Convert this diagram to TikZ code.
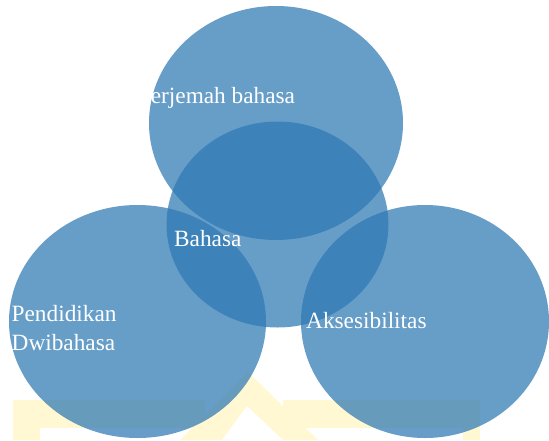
\documentclass[tikz,border=0pt]{standalone}
\usepackage{fontspec}
\setmainfont{Liberation Serif}
\begin{document}
\begin{tikzpicture}[x=1pt,y=-1pt,
  bubble/.style={fill=bubbleblue,fill opacity=0.72,draw=none},
  wmark/.style={fill=wmyellow,draw=none},
  hole/.style={fill=white,draw=none},
  lbl/.style={text=white,inner sep=0pt,anchor=base west,font=\fontsize{23.3}{28}\selectfont}]
\definecolor{bubbleblue}{RGB}{45,120,179}
\definecolor{wmyellow}{RGB}{255,248,210}
\useasboundingbox (0,0) rectangle (549,440);
% faint watermark
\path[wmark] (13,400) rectangle (205,440);
\path[hole] (40,428) rectangle (205,440);
\path[wmark] (283,400) rectangle (480,440);
\path[hole] (300,428) rectangle (463,440);
\path[wmark] (180,440) -- (248,372) -- (318,440) -- cycle;
\path[hole] (222,440) -- (247,406) -- (283,440) -- cycle;
% ellipses
\path[bubble] (276,123) ellipse [x radius=127,y radius=117];
\path[bubble] (277.5,224.5) ellipse [x radius=111,y radius=103];
\path[bubble] (137.5,321.5) ellipse [x radius=128.5,y radius=116.5];
\path[bubble] (425,321.5) ellipse [x radius=124,y radius=116.5];
% labels
\node[lbl] (t) at (138,103.3) {Terjemah bahasa};
\node[lbl] (b) at (174,246) {Bahasa};
\node[lbl] (a) at (306,328.3) {Aksesibilitas};
\node[lbl] (p1) at (11.5,321.7) {Pendidikan};
\node[lbl] (p2) at (11.5,350) {Dwibahasa};
\end{tikzpicture}
\end{document}
